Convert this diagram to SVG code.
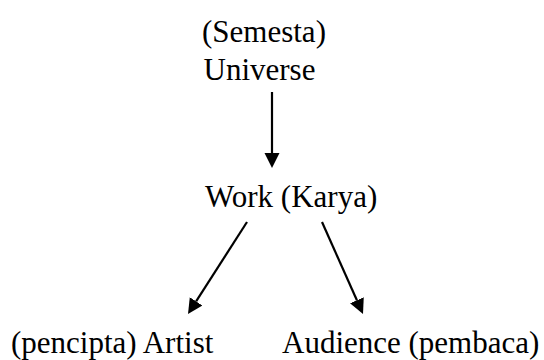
<svg xmlns="http://www.w3.org/2000/svg" width="544" height="360" viewBox="0 0 544 360">
  <style>
    text { font-family: "Liberation Serif", "Times New Roman", serif; font-size: 31px; fill: #000; }
    .edge { stroke: #000; stroke-width: 2.2; fill: none; }
  </style>
  <defs>
    <marker id="arrow" markerUnits="userSpaceOnUse" markerWidth="16" markerHeight="16" refX="0" refY="7.5" orient="auto">
      <path d="M0,0 L15,7.5 L0,15 z" fill="#000"/>
    </marker>
  </defs>
  <rect width="544" height="360" fill="#fff"/>
  <g id="universe">
    <text x="202" y="42">(Semesta)</text>
    <text x="203.5" y="80">Universe</text>
  </g>
  <g id="work">
    <text x="205" y="207">Work (Karya)</text>
  </g>
  <g id="artist">
    <text x="11" y="353">(pencipta) Artist</text>
  </g>
  <g id="audience">
    <text x="282" y="353">Audience (pembaca)</text>
  </g>
  <g id="connectors">
    <line class="edge" x1="272" y1="92" x2="272" y2="153" marker-end="url(#arrow)"/>
    <line class="edge" x1="247" y1="222" x2="196.1" y2="301.4" marker-end="url(#arrow)"/>
    <line class="edge" x1="322" y1="222" x2="356.9" y2="300.3" marker-end="url(#arrow)"/>
  </g>
</svg>
